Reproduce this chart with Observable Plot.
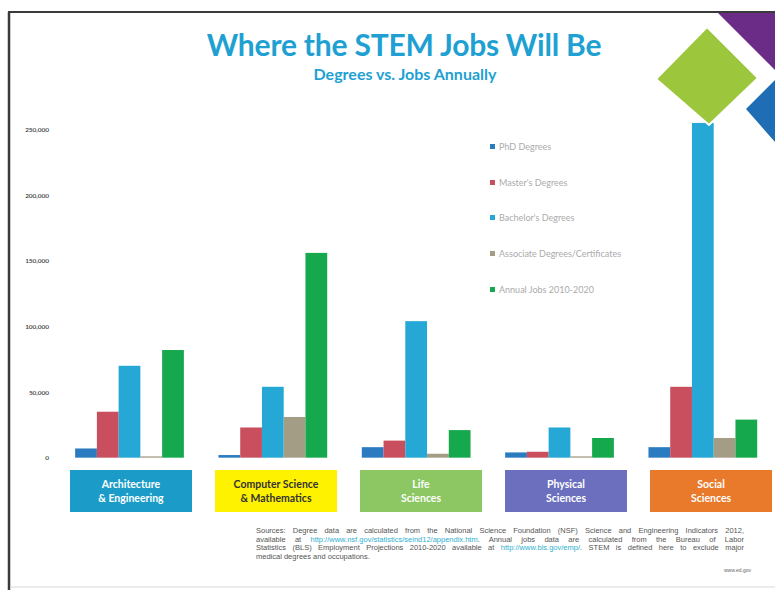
<!DOCTYPE html>
<html>
<head>
<meta charset="utf-8">
<script src="https://cdn.jsdelivr.net/npm/d3@7"></script>
<script src="https://cdn.jsdelivr.net/npm/@observablehq/plot@0.6"></script>
<style>
  html, body { margin: 0; padding: 0; background: #fff; overflow: hidden; }
  #wrap { position: relative; width: 775px; height: 590px; overflow: hidden; font-family: Lato, "Open Sans", sans-serif; }
  #chart { position: absolute; left: 0; top: 0; }
  .abs { position: absolute; }
  #title { left: 0; width: 808px; top: 26px; text-align: center; font-size: 30px; font-weight: 700; color: #1ea1d2; letter-spacing: -0.2px; }
  #subtitle { left: 0; width: 810px; top: 64px; text-align: center; font-size: 16px; font-weight: 700; color: #1ea1d2; }
  .leg { font-size: 9px; color: #ababab; white-space: nowrap; line-height: 10px; }
  .leg span.sw { display: inline-block; width: 5px; height: 5px; margin-right: 4px; vertical-align: 1px; }
  .catbox { display: flex; align-items: center; justify-content: center; text-align: center; font-size: 10.5px; font-weight: 700; line-height: 14px; color: #fff; }
  .src { left: 256px; width: 488px; font-size: 7.5px; line-height: 8.5px; height: 8.5px; color: #555; text-align: justify; text-align-last: justify; white-space: nowrap; font-family: "Liberation Sans", Arial, sans-serif; }
  .src.last { text-align-last: left; }
  .src span.lnk { color: #2fb0cf; }
  #foot { left: 724px; top: 567px; font-size: 5px; color: #666; font-family: "Liberation Sans", sans-serif; }
</style>
</head>
<body>
<div id="wrap">
  <div id="chart"></div>
</div>
<script>
// ---- data ----
const categories = ["Architecture & Engineering", "Computer Science & Mathematics", "Life Sciences", "Physical Sciences", "Social Sciences"];
const categoryLines = [["Architecture", "& Engineering"], ["Computer Science", "& Mathematics"], ["Life", "Sciences"], ["Physical", "Sciences"], ["Social", "Sciences"]];
const series = ["PhD Degrees", "Master's Degrees", "Bachelor's Degrees", "Associate Degrees/Certificates", "Annual Jobs 2010-2020"];
const phdDegrees       = [7000, 2000, 8000, 4000, 8000];
const mastersDegrees   = [35000, 23000, 13000, 4500, 54000];
const bachelorsDegrees = [70000, 54000, 104000, 23000, 255000];
const associateDegrees = [1000, 31000, 3000, 1000, 15000];
const annualJobs       = [82000, 156000, 21000, 15000, 29000];
const yTicks = [0, 50000, 100000, 150000, 200000, 250000];
const seriesColors = ["#2b7bc1", "#c94f5e", "#25a8d5", "#a49d86", "#16a84c"];
const categoryColors = ["#1b9cc8", "#fff200", "#8dc763", "#6b6fbd", "#e97a2c"];
const categoryTextColors = ["#ffffff", "#333333", "#ffffff", "#ffffff", "#ffffff"];
const sourceLines = [
  "Sources: Degree data are calculated from the National Science Foundation (NSF) Science and Engineering Indicators 2012,",
  "available at <span class='lnk'>http://www.nsf.gov/statistics/seind12/appendix.htm</span>. Annual jobs data are calculated from the Bureau of Labor",
  "Statistics (BLS) Employment Projections 2010-2020 available at <span class='lnk'>http://www.bls.gov/emp/</span>. STEM is defined here to exclude major",
  "medical degrees and occupations."
];

const valuesBySeries = [phdDegrees, mastersDegrees, bachelorsDegrees, associateDegrees, annualJobs];
const rows = [];
categories.forEach((c, i) => series.forEach((s, j) => rows.push({category: c, series: s, value: valuesBySeries[j][i]})));

const plot = Plot.plot({
  width: 784,
  height: 470,
  marginTop: 131,
  marginBottom: 7,
  marginLeft: 58,
  marginRight: 0,
  style: {background: "transparent", fontFamily: "Lato, sans-serif"},
  fx: {domain: categories, paddingInner: 0.228, paddingOuter: 0.117, axis: null, label: null},
  x: {domain: series, padding: 0, axis: null},
  y: {domain: [0, 250000], axis: null},
  color: {domain: series, range: seriesColors},
  marks: [
    Plot.barY(rows, {fx: "category", x: "series", y: "value", fill: "series", inset: 0}),
    Plot.axisY({ticks: yTicks, tickSize: 0, tickPadding: 26, tickFormat: d3.format(","), fontSize: 6.5, fontWeight: 600, fill: "#333", label: null, facetAnchor: "left"})
  ]
});
document.getElementById("chart").appendChild(plot);

const wrap = document.getElementById("wrap");
function add(html, cls, style) {
  const d = document.createElement("div");
  d.className = "abs " + (cls || "");
  if (style) Object.assign(d.style, style);
  d.innerHTML = html;
  wrap.appendChild(d);
  return d;
}

// category boxes positioned from the fx scale
const fx = plot.scale("fx");
const fxScale = d3.scaleBand().domain(fx.domain).range(fx.range).paddingInner(fx.paddingInner ?? 0.228).paddingOuter(fx.paddingOuter ?? 0.117);
categories.forEach((c, i) => {
  const cx = fxScale(c) + fxScale.bandwidth() / 2;
  const w = 122;
  add(categoryLines[i].join("<br>"), "catbox", {
    left: (cx - w / 2) + "px", top: "470px", width: w + "px", height: "42px",
    background: categoryColors[i], color: categoryTextColors[i]
  });
});

// decorations
const deco = document.createElementNS("http://www.w3.org/2000/svg", "svg");
deco.setAttribute("width", "775"); deco.setAttribute("height", "590");
deco.style.position = "absolute"; deco.style.left = "0"; deco.style.top = "0"; deco.style.pointerEvents = "none";
deco.innerHTML = `
  <line x1="8" y1="12" x2="775" y2="12" stroke="#3a3a3a" stroke-width="2"/>
  <line x1="9" y1="12" x2="9" y2="590" stroke="#3a3a3a" stroke-width="2.5"/>
  <line x1="10" y1="587" x2="775" y2="587" stroke="#d8d8d8" stroke-width="1"/>
  <polygon points="718,13 775,13 775,70" fill="#6a2c86"/>
  <polygon points="775,80 746,109 775,142" fill="#1f6db5"/>
  <polygon points="707,27 758,78 709,125 656,79" fill="#9cc63c" stroke="#fff" stroke-width="2"/>
`;
wrap.appendChild(deco);

// titles
add("Where the STEM Jobs Will Be", "", {}).id = "title";
add("Degrees vs. Jobs Annually", "", {}).id = "subtitle";

// legend
const legTops = [142, 178, 213, 249, 285];
series.forEach((s, j) => {
  add(`<span class="sw" style="background:${seriesColors[j]}"></span>${s}`, "leg", {left: "490px", top: legTops[j] + "px"});
});

// source, one div per line
sourceLines.forEach((line, k) => {
  add(line, "src" + (k === sourceLines.length - 1 ? " last" : ""), {top: (527 + k * 8.5) + "px"});
});
add("www.ed.gov", "", {}).id = "foot";
</script>
</body>
</html>
